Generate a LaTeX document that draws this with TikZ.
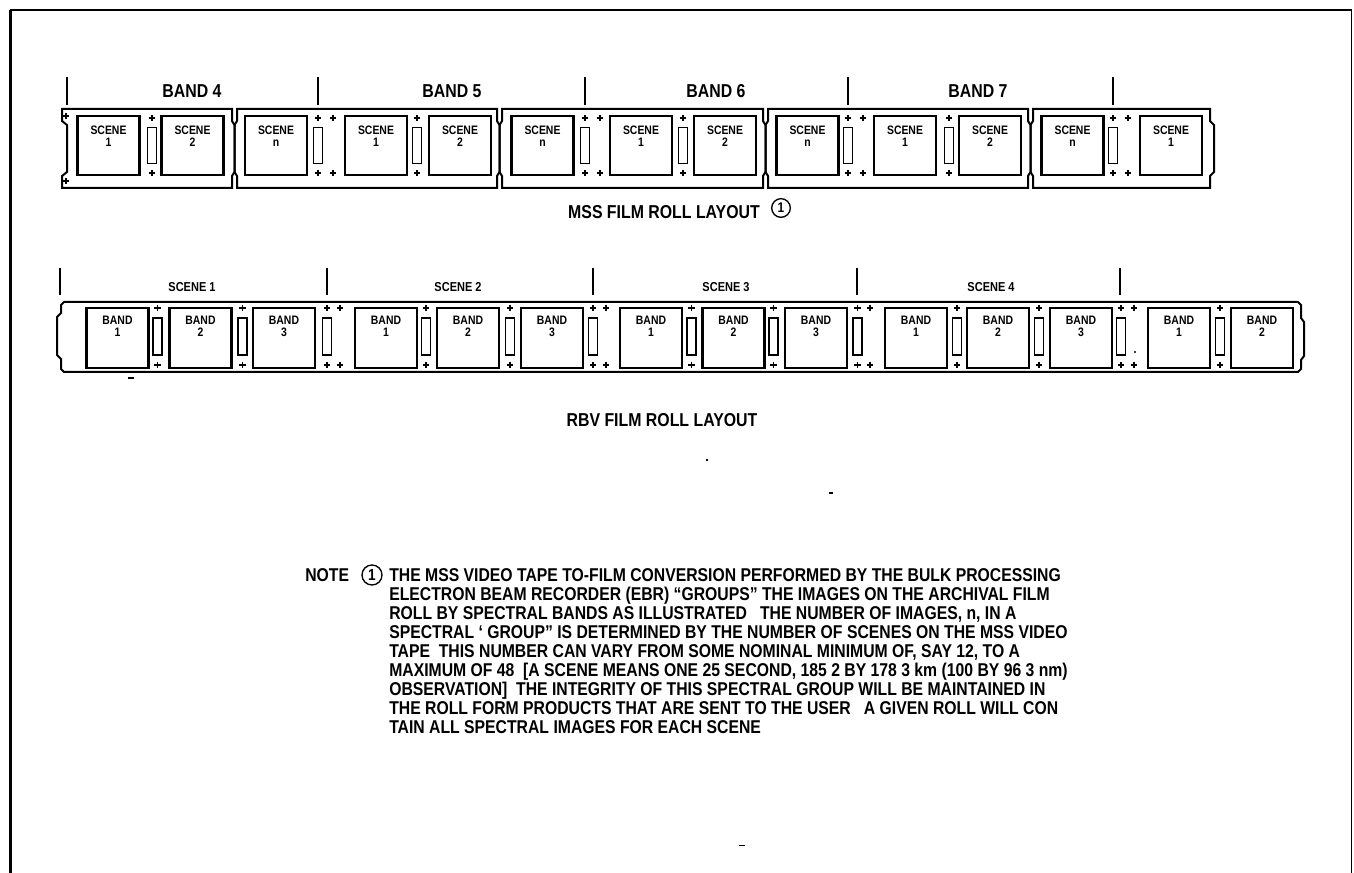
\documentclass[tikz,border=0pt]{standalone}
\usepackage{fontspec}
\newfontfamily\cf{Liberation Sans}[FakeStretch=0.85]
\begin{document}
\begin{tikzpicture}[x=0.75pt,y=-0.75pt,line join=miter,
  stripl/.style={line width=1.5pt},
  tickl/.style={line width=1.6pt},
  mbox/.style={draw,line width=1.8pt,minimum width=46.5pt,minimum height=44.25pt,inner sep=0},
  rbox/.style={draw,line width=1.8pt,minimum width=46.5pt,minimum height=45pt,inner sep=0},
  slotbox/.style={draw,line width=1.3pt,minimum width=6.75pt,minimum height=27pt,inner sep=0},
  boxlab/.style={font=\cf\bfseries\fontsize{9.2}{9.5}\selectfont,align=center,anchor=north,inner sep=0},
  bandlab/.style={font=\cf\bfseries\fontsize{14}{14}\selectfont,inner sep=0},
  scenelab/.style={font=\cf\bfseries\fontsize{9.7}{10}\selectfont,inner sep=0},
  title/.style={font=\cf\bfseries\fontsize{14}{14}\selectfont,inner sep=0},
  notetext/.style={font=\cf\bfseries\fontsize{13.9}{14}\selectfont,anchor=base west,inner sep=0},
  circnum/.style={draw,circle,line width=1pt,inner sep=0,minimum size=14pt,font=\cf\bfseries\fontsize{10.5}{10.5}\selectfont},
  plusline/.style={line width=1.2pt},
  pls/.pic={\draw[plusline] (-3.2,0)--(3.2,0) (0,-3.2)--(0,3.2);}]
\useasboundingbox (0,0) rectangle (1354,873);
\fill[white] (0,0) rectangle (1354,873);
% frame
\draw[line width=2.2pt] (10.5,873) -- (10.5,10);
\draw[line width=1.6pt] (9.5,10) -- (1352,10);
\draw[line width=0.9pt] (1351.5,9.5) -- (1351.5,873);

% ================= MSS =================
\draw[stripl] (62,109) -- (232,109) -- (232,121) -- (234.5,125) -- (234.5,172) -- (232,176) -- (232,188)
  -- (62,188) -- (62,176) -- (67,172) -- (67,125) -- (62,121) -- cycle;
\foreach \a/\b in {237/497,502/763,768/1028}{
  \draw[stripl] (\a,109) -- (\b,109) -- (\b,121) -- (\b+2.5,125) -- (\b+2.5,172) -- (\b,176) -- (\b,188)
    -- (\a,188) -- (\a,176) -- (\a-2.5,172) -- (\a-2.5,125) -- (\a,121) -- cycle;}
\draw[stripl] (1033,109) -- (1210,109) -- (1210,121) -- (1214,125) -- (1214,172) -- (1210,176) -- (1210,188)
  -- (1033,188) -- (1033,176) -- (1030.5,172) -- (1030.5,125) -- (1033,121) -- cycle;
\pic at (66,116) {pls};
\pic at (66,181) {pls};
\foreach \i/\x/\t in {1/108.5/1,2/192.5/2,3/276/n,4/376/1,5/460/2,6/542.5/n,7/641/1,8/725/2,9/807.5/n,10/905/1,11/990/2,12/1072.5/n,13/1171/1}{
  \node[mbox] (m\i) at (\x,145.5) {};
  \node[boxlab] (m\i t) at ([yshift=-8pt]m\i.north) {SCENE\\\t};}
\foreach \i/\x in {1/152,2/318,3/417,4/585,5/683,6/848,7/949,8/1113}{
  \node[slotbox] (ms\i) at (\x,145.5) {};
  \pic at (\x,118) {pls};
  \pic at (\x,173) {pls};}
\foreach \x in {333,600,863,1128}{
  \pic at (\x,118) {pls};
  \pic at (\x,173) {pls};}
\foreach \x in {67,318,585,848,1113}{
  \draw[tickl] (\x,77) -- (\x,105);}
\node[bandlab] (b4) at (192,91) {BAND 4};
\node[bandlab] (b5) at (452,91) {BAND 5};
\node[bandlab] (b6) at (716,91) {BAND 6};
\node[bandlab] (b7) at (978,91) {BAND 7};
\node[title] (msst) at (664,212) {MSS FILM ROLL LAYOUT};
\node[circnum] (c1) at (781,208) {1};

% ================= RBV =================
\draw[stripl] (64,302) -- (1298,302) -- (1301,305) -- (1301,318) -- (1304,322) -- (1304,356) -- (1301,360)
  -- (1301,369) -- (1298,372) -- (64,372) -- (61,369) -- (61,359) -- (57,355) -- (57,317) -- (61,313)
  -- (61,305) -- cycle;
\foreach \i/\x/\t in {1/117.5/1,2/200.5/2,3/284/3,4/386/1,5/468/2,6/552/3,7/651/1,8/733.5/2,9/816/3,10/916/1,11/998/2,12/1081/3,13/1179/1,14/1262/2}{
  \node[rbox] (r\i) at (\x,338) {};
  \node[boxlab] (r\i t) at ([yshift=-6.5pt]r\i.north) {BAND\\\t};}
\foreach \i/\x in {1/157.5,2/242.5,3/327,4/426,5/510,6/593,7/691.5,8/773.5,9/857.5,10/957,11/1039,12/1121,13/1220}{
  \node[slotbox,minimum height=27.75pt] (rs\i) at (\x,336.5) {};
  \pic at (\x,308) {pls};
  \pic at (\x,365) {pls};}
\foreach \x in {340,606,870,1134}{
  \pic at (\x,308) {pls};
  \pic at (\x,365) {pls};}
\foreach \x in {60,327,593,857,1120}{
  \draw[tickl] (\x,268) -- (\x,295);}
\node[scenelab] (s1) at (192,287) {SCENE 1};
\node[scenelab] (s2) at (458,287) {SCENE 2};
\node[scenelab] (s3) at (726,287) {SCENE 3};
\node[scenelab] (s4) at (991,287) {SCENE 4};
\node[title] (rbvt) at (662,420) {RBV FILM ROLL LAYOUT};

% stray marks
\fill (1135,352) circle (0.9pt);
\fill (128,377.5) rectangle (134,379);
\fill (707,460) circle (1.1pt);
\fill (829,492.5) rectangle (833,494.5);
\fill (739,844.5) rectangle (745,846);

% ================= NOTE =================
\node[notetext] (nt) at (305,581.6) {NOTE};
\node[circnum,minimum size=15pt,font=\cf\bfseries\fontsize{12}{12}\selectfont] (c2) at (372,575) {1};
\node[notetext] (l1) at (389,581.6) {THE MSS VIDEO TAPE TO-FILM CONVERSION PERFORMED BY THE BULK PROCESSING};
\node[notetext] (l2) at (389,600.6) {ELECTRON BEAM RECORDER (EBR) “GROUPS” THE IMAGES ON THE ARCHIVAL FILM};
\node[notetext] (l3) at (389,619.6) {ROLL BY SPECTRAL BANDS AS ILLUSTRATED\ \ \ THE NUMBER OF IMAGES, n, IN A};
\node[notetext] (l4) at (389,638.6) {SPECTRAL ‘ GROUP” IS DETERMINED BY THE NUMBER OF SCENES ON THE MSS VIDEO};
\node[notetext] (l5) at (389,657.6) {TAPE\ \ THIS NUMBER CAN VARY FROM SOME NOMINAL MINIMUM OF, SAY 12, TO A};
\node[notetext] (l6) at (389,676.6) {MAXIMUM OF 48\ \ [A SCENE MEANS ONE 25 SECOND, 185 2 BY 178 3 km (100 BY 96 3 nm)};
\node[notetext] (l7) at (389,695.6) {OBSERVATION]\ \ THE INTEGRITY OF THIS SPECTRAL GROUP WILL BE MAINTAINED IN};
\node[notetext] (l8) at (389,714.6) {THE ROLL FORM PRODUCTS THAT ARE SENT TO THE USER\ \ \ A GIVEN ROLL WILL CON};
\node[notetext] (l9) at (389,733.6) {TAIN ALL SPECTRAL IMAGES FOR EACH SCENE};
\end{tikzpicture}
\end{document}
